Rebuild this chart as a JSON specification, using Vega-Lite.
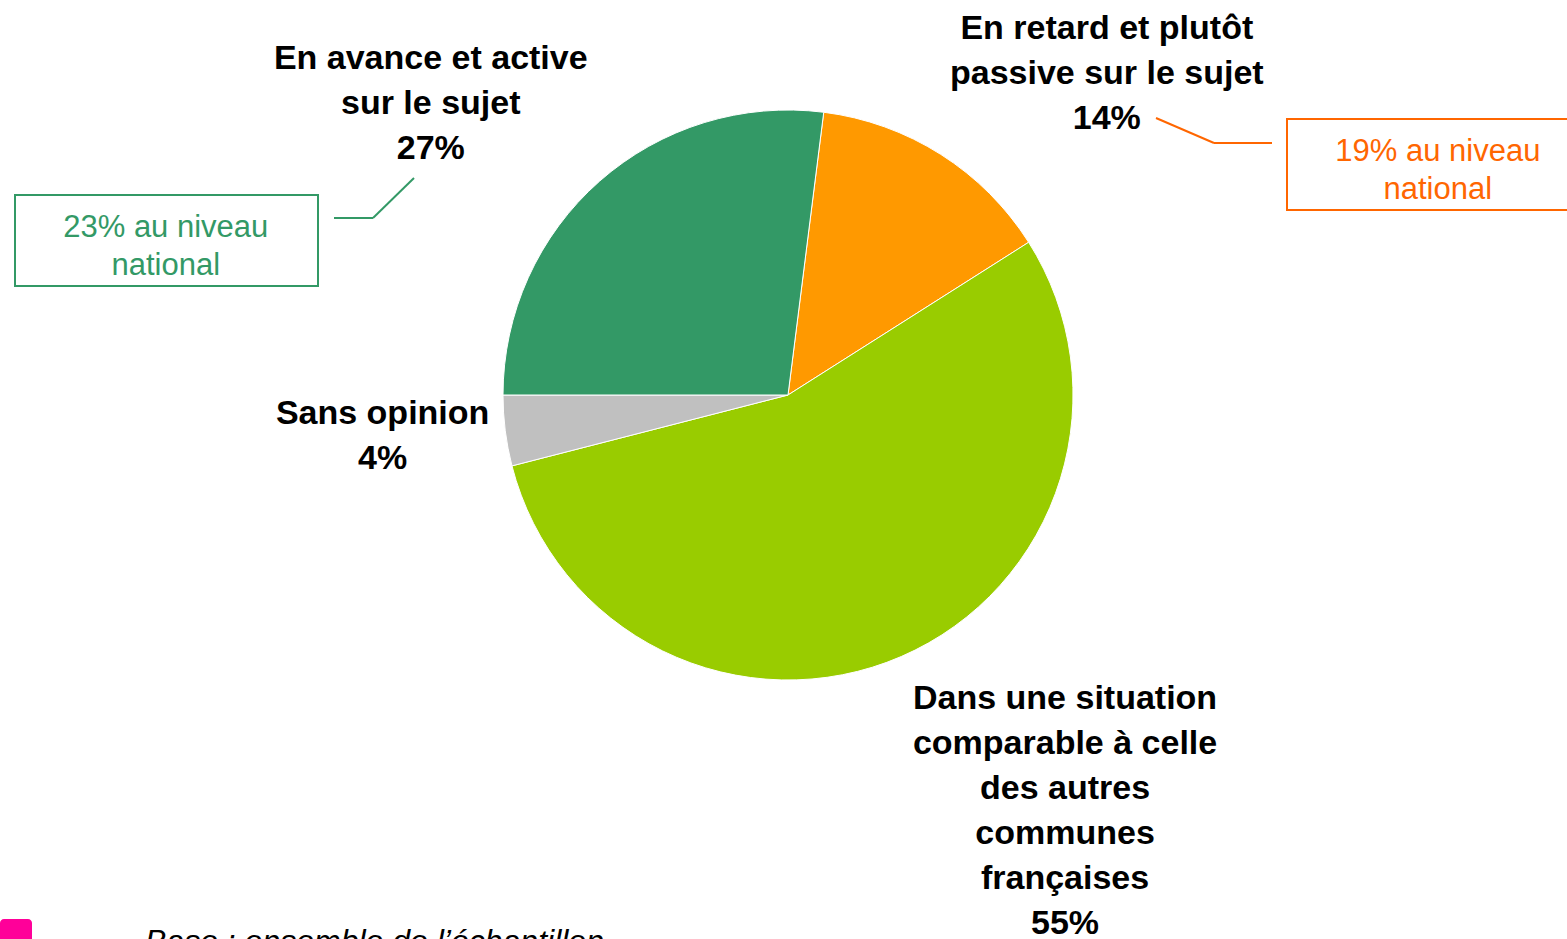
{
  "$schema": "https://vega.github.io/schema/vega-lite/v6.json",
  "width": 1558,
  "height": 790,
  "autosize": "none",
  "padding": {"left": 9, "top": 0, "right": 0, "bottom": 149},
  "background": "white",
  "config": {"view": {"stroke": null}, "font": "Liberation Sans"},
  "datasets": {
    "slices": [
      {"category": "En retard et plutôt passive sur le sujet", "value": 14, "rank": 1, "label": "En retard et plutôt\npassive sur le sujet\n14%", "national": "19% au niveau\nnational"},
      {"category": "Dans une situation comparable à celle des autres communes françaises", "value": 55, "rank": 2, "label": "Dans une situation\ncomparable à celle\ndes autres\ncommunes\nfrançaises\n55%", "national": ""},
      {"category": "Sans opinion", "value": 4, "rank": 3, "label": "Sans opinion\n4%", "national": ""},
      {"category": "En avance et active sur le sujet", "value": 27, "rank": 4, "label": "En avance et active\nsur le sujet\n27%", "national": "23% au niveau\nnational"}
    ],
    "blank": [{}]
  },
  "layer": [
    {
      "data": {"name": "slices"},
      "mark": {"type": "arc", "outerRadius": 285, "stroke": "white", "strokeWidth": 1},
      "encoding": {
        "theta": {"field": "value", "type": "quantitative", "stack": true, "scale": {"domain": [0, 100], "range": [0.12566, 6.40885]}},
        "order": {"field": "rank", "type": "quantitative"},
        "color": {"field": "category", "type": "nominal", "legend": null,
          "scale": {"domain": ["En retard et plutôt passive sur le sujet", "Dans une situation comparable à celle des autres communes françaises", "Sans opinion", "En avance et active sur le sujet"],
                    "range": ["#FF9900", "#99CC00", "#C0C0C0", "#339966"]}}
      }
    },
    {
      "data": {"name": "slices"},
      "mark": {"type": "text", "radius": 330, "dx": 142, "dy": -87, "fontSize": 34, "fontWeight": "bold", "lineHeight": 45, "lineBreak": "\n", "align": "center", "baseline": "middle", "fill": "black"},
      "encoding": {
        "theta": {"field": "value", "type": "quantitative", "stack": true},
        "order": {"field": "rank", "type": "quantitative"},
        "text": {"condition": {"test": "datum.rank == 1", "field": "label"}, "value": ""}
      }
    },
    {
      "data": {"name": "slices"},
      "mark": {"type": "text", "radius": 330, "dx": 146, "dy": 1, "fontSize": 34, "fontWeight": "bold", "lineHeight": 45, "lineBreak": "\n", "align": "center", "baseline": "middle", "fill": "black"},
      "encoding": {
        "theta": {"field": "value", "type": "quantitative", "stack": true},
        "order": {"field": "rank", "type": "quantitative"},
        "text": {"condition": {"test": "datum.rank == 2", "field": "label"}, "value": ""}
      }
    },
    {
      "data": {"name": "slices"},
      "mark": {"type": "text", "radius": 330, "dx": -78, "dy": -22, "fontSize": 34, "fontWeight": "bold", "lineHeight": 45, "lineBreak": "\n", "align": "center", "baseline": "middle", "fill": "black"},
      "encoding": {
        "theta": {"field": "value", "type": "quantitative", "stack": true},
        "order": {"field": "rank", "type": "quantitative"},
        "text": {"condition": {"test": "datum.rank == 3", "field": "label"}, "value": ""}
      }
    },
    {
      "data": {"name": "slices"},
      "mark": {"type": "text", "radius": 330, "dx": -139, "dy": -88, "fontSize": 34, "fontWeight": "bold", "lineHeight": 45, "lineBreak": "\n", "align": "center", "baseline": "middle", "fill": "black"},
      "encoding": {
        "theta": {"field": "value", "type": "quantitative", "stack": true},
        "order": {"field": "rank", "type": "quantitative"},
        "text": {"condition": {"test": "datum.rank == 4", "field": "label"}, "value": ""}
      }
    },
    {
      "data": {"name": "slices"},
      "mark": {"type": "text", "radius": 330, "dx": -404, "dy": 81, "fontSize": 31, "lineHeight": 38, "lineBreak": "\n", "align": "center", "baseline": "middle", "fill": "#339966"},
      "encoding": {
        "theta": {"field": "value", "type": "quantitative", "stack": true},
        "order": {"field": "rank", "type": "quantitative"},
        "text": {"condition": {"test": "datum.rank == 4", "field": "national"}, "value": ""}
      }
    },
    {
      "data": {"name": "slices"},
      "mark": {"type": "text", "radius": 330, "dx": 473, "dy": 36, "fontSize": 31, "lineHeight": 38, "lineBreak": "\n", "align": "center", "baseline": "middle", "fill": "#FF6600"},
      "encoding": {
        "theta": {"field": "value", "type": "quantitative", "stack": true},
        "order": {"field": "rank", "type": "quantitative"},
        "text": {"condition": {"test": "datum.rank == 1", "field": "national"}, "value": ""}
      }
    },
    {
      "data": {"name": "blank"},
      "mark": {"type": "rect", "fill": null, "stroke": "#339966", "strokeWidth": 2},
      "encoding": {"x": {"value": 6}, "x2": {"value": 309}, "y": {"value": 195}, "y2": {"value": 286}}
    },
    {
      "data": {"name": "blank"},
      "mark": {"type": "rect", "fill": null, "stroke": "#FF6600", "strokeWidth": 2},
      "encoding": {"x": {"value": 1278}, "x2": {"value": 1565}, "y": {"value": 119}, "y2": {"value": 210}}
    },
    {
      "data": {"name": "blank"},
      "mark": {"type": "rule", "stroke": "#339966", "strokeWidth": 2},
      "encoding": {"x": {"value": 325}, "x2": {"value": 364}, "y": {"value": 218}, "y2": {"value": 218}}
    },
    {
      "data": {"name": "blank"},
      "mark": {"type": "rule", "stroke": "#339966", "strokeWidth": 2},
      "encoding": {"x": {"value": 364}, "x2": {"value": 405}, "y": {"value": 218}, "y2": {"value": 178}}
    },
    {
      "data": {"name": "blank"},
      "mark": {"type": "rule", "stroke": "#FF6600", "strokeWidth": 2},
      "encoding": {"x": {"value": 1147}, "x2": {"value": 1205}, "y": {"value": 118}, "y2": {"value": 143}}
    },
    {
      "data": {"name": "blank"},
      "mark": {"type": "rule", "stroke": "#FF6600", "strokeWidth": 2},
      "encoding": {"x": {"value": 1205}, "x2": {"value": 1263}, "y": {"value": 143}, "y2": {"value": 143}}
    },
    {
      "data": {"name": "blank"},
      "mark": {"type": "rect", "fill": "#FF0099", "cornerRadius": 4},
      "encoding": {"x": {"value": -9}, "x2": {"value": 23}, "y": {"value": 919}, "y2": {"value": 960}}
    },
    {
      "data": {"name": "blank"},
      "mark": {"type": "text", "text": "Base : ensemble de l’échantillon", "fontSize": 32, "fontStyle": "italic", "align": "left", "baseline": "alphabetic", "fill": "black"},
      "encoding": {"x": {"value": 136}, "y": {"value": 952}}
    }
  ]
}
